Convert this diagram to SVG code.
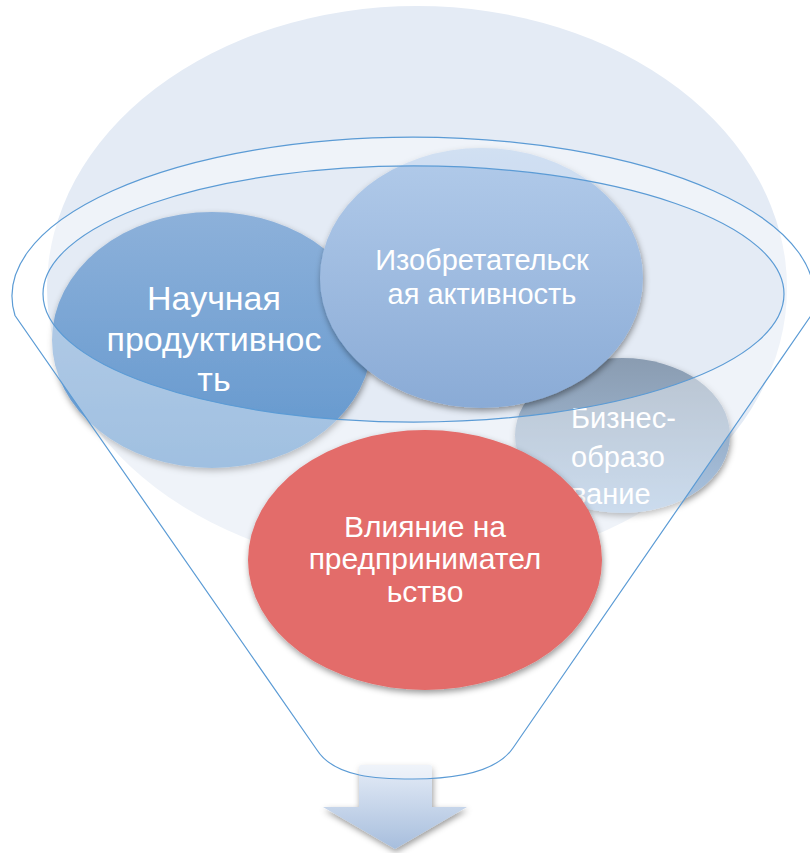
<svg xmlns="http://www.w3.org/2000/svg" width="810" height="853" viewBox="0 0 810 853">
  <defs>
    <linearGradient id="gSci" x1="0" y1="0" x2="0" y2="1">
      <stop offset="0" stop-color="#8db1da"/>
      <stop offset="1" stop-color="#6196cd"/>
    </linearGradient>
    <linearGradient id="gInv" x1="0" y1="0" x2="0" y2="1">
      <stop offset="0" stop-color="#b2cbea"/>
      <stop offset="1" stop-color="#8aabd6"/>
    </linearGradient>
    <linearGradient id="gBiz" x1="0" y1="0" x2="0" y2="1">
      <stop offset="0" stop-color="#8a9cb1"/>
      <stop offset="1" stop-color="#a9c4e2"/>
    </linearGradient>
    <linearGradient id="gArrow" x1="0" y1="0" x2="0" y2="1">
      <stop offset="0" stop-color="#e5ecf7"/>
      <stop offset="1" stop-color="#a7bedd"/>
    </linearGradient>
    <filter id="shadow" x="-20%" y="-20%" width="140%" height="150%">
      <feDropShadow dx="1" dy="3" stdDeviation="3" flood-color="#000" flood-opacity="0.4"/>
    </filter>
    <style>
      .lbl { font-family: "Liberation Sans", Arial, sans-serif; fill: #ffffff; text-anchor: middle; }
      .funnel { fill: #ffffff; fill-opacity: 0.4; fill-rule: evenodd; stroke: #5b9bd5; stroke-width: 1.2; }
    </style>
  </defs>

  <g id="background">
    <ellipse cx="417" cy="288" rx="370" ry="282" fill="#e4ebf5"/>
  </g>

  <g id="connectors">
    <path id="arrow-down" d="M359,767 Q359,765 361,765 H430 Q432,765 432,767 V807 H467 L395,849 L323,807 H359 Z" fill="url(#gArrow)" filter="url(#shadow)"/>
  </g>

  <g id="node-science">
    <ellipse cx="212" cy="340" rx="160" ry="128" fill="url(#gSci)" filter="url(#shadow)"/>
    <text class="lbl" font-size="34" x="214" y="310">Научная</text>
    <text class="lbl" font-size="34" x="214" y="351">продуктивнос</text>
    <text class="lbl" font-size="34" x="214" y="391">ть</text>
  </g>

  <g id="node-business">
    <ellipse cx="622.5" cy="435.5" rx="107.5" ry="77.5" fill="url(#gBiz)" filter="url(#shadow)"/>
    <text class="lbl" font-size="29" x="571" y="428" style="text-anchor:start">Бизнес-</text>
    <text class="lbl" font-size="29" x="571" y="467" style="text-anchor:start">образо</text>
    <text class="lbl" font-size="29" x="571" y="504" style="text-anchor:start">вание</text>
  </g>

  <g id="node-invention">
    <ellipse cx="481.5" cy="278" rx="161.5" ry="130" fill="url(#gInv)" filter="url(#shadow)"/>
    <text class="lbl" font-size="29" x="482" y="270">Изобретательск</text>
    <text class="lbl" font-size="29" x="482" y="304">ая активность</text>
  </g>

  <g id="funnel">
    <path class="funnel" d="M15,315.5 A401,159 0 1 1 811,315.5 L513,748 C495,774 450,779 413,779 C380,779 335,778 317,750 Z M43,294 A370.5,128 0 1 0 784,294 A370.5,128 0 1 0 43,294 Z"/>
  </g>

  <g id="node-impact">
    <ellipse cx="425" cy="560" rx="177" ry="130" fill="#e36c6a" filter="url(#shadow)"/>
    <text class="lbl" font-size="30" x="425" y="537">Влияние на</text>
    <text class="lbl" font-size="30" x="425" y="569">предпринимател</text>
    <text class="lbl" font-size="30" x="425" y="602">ьство</text>
  </g>
</svg>
